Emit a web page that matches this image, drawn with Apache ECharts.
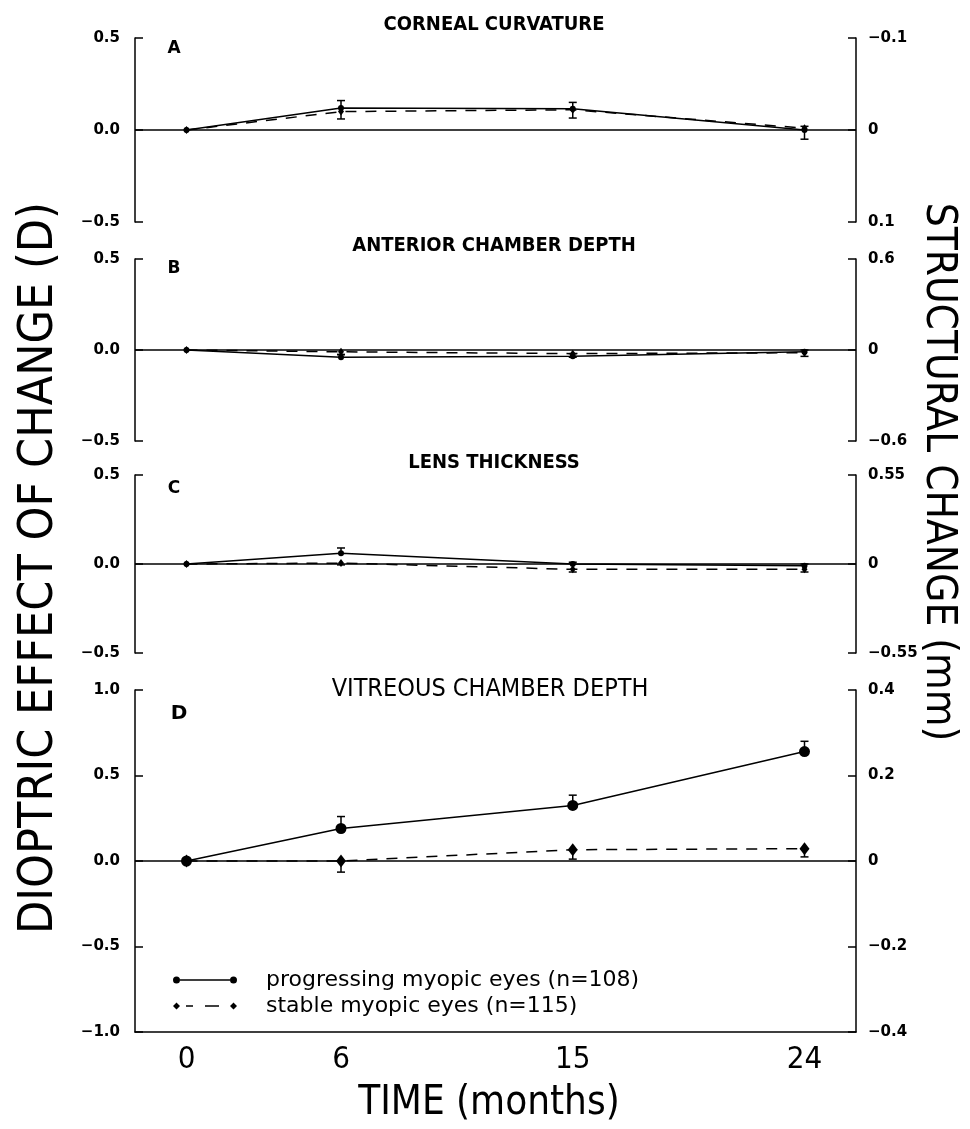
<!DOCTYPE html>
<html>
<head>
<meta charset="utf-8">
<script src="https://cdn.jsdelivr.net/npm/echarts@6/dist/echarts.min.js"></script>
<style>
  html, body { margin: 0; padding: 0; background: #fff; }
  #chart { width: 970px; height: 1129px; }
</style>
</head>
<body>
<div id="chart"></div>
<script>
// time points (months) and the labelled ticks on the bottom axis
const months = [0, 6, 15, 24];
const timeTicks = [0, 6, 15, 24];

const panelTitles = ['CORNEAL CURVATURE', 'ANTERIOR CHAMBER DEPTH', 'LENS THICKNESS', 'VITREOUS CHAMBER DEPTH'];
const panelLetters = ['A', 'B', 'C', 'D'];

const progName = 'progressing myopic eyes (n=108)';
const stabName = 'stable myopic eyes (n=115)';

// dioptric effect of change (D) -- progressing eyes, error drawn upwards
const progA = [0, 0.12, 0.115, 0.0];
const progErrA = [0, 0.04, 0.035, 0.02];
const progB = [0, -0.04, -0.035, -0.01];
const progErrB = [0, 0.015, 0.015, 0.01];
const progC = [0, 0.06, 0.0, -0.01];
const progErrC = [0, 0.03, 0.01, 0.01];
const progD = [0, 0.19, 0.325, 0.64];
const progErrD = [0, 0.07, 0.06, 0.06];

// stable eyes, error drawn downwards
const stabA = [0, 0.10, 0.11, 0.01];
const stabErrA = [0, 0.04, 0.045, 0.06];
const stabB = [0, -0.01, -0.02, -0.015];
const stabErrB = [0, 0.015, 0.02, 0.02];
const stabC = [0, 0.005, -0.03, -0.03];
const stabErrC = [0, 0.01, 0.015, 0.015];
const stabD = [0, 0.0, 0.066, 0.072];
const stabErrD = [0, 0.065, 0.055, 0.048];

// axis ranges [min, max, interval]: left in dioptres, right in mm
const leftRanges = [[-0.5, 0.5, 0.5], [-0.5, 0.5, 0.5], [-0.5, 0.5, 0.5], [-1, 1, 0.5]];
const rightRanges = [[-0.1, 0.1, 0.1], [-0.6, 0.6, 0.6], [-0.55, 0.55, 0.55], [-0.4, 0.4, 0.2]];
const rightInverse = [true, false, false, false];

const progAll = [progA, progB, progC, progD];
const progErrAll = [progErrA, progErrB, progErrC, progErrD];
const stabAll = [stabA, stabB, stabC, stabD];
const stabErrAll = [stabErrA, stabErrB, stabErrC, stabErrD];

const chart = echarts.init(document.getElementById('chart'));

const narrow = '"Liberation Sans Narrow", "DejaVu Sans Condensed", sans-serif';
const cond = '"DejaVu Sans Condensed", "Liberation Sans Narrow", sans-serif';
const tickFont = { fontFamily: 'DejaVu Sans', fontWeight: 'bold', fontSize: 15, color: '#000' };

const fmtLeft = v => (v < 0 ? '\u2212' : '') + Math.abs(v).toFixed(1);
const fmtRight = v => {
  const r = Math.round(v * 100) / 100;
  return r === 0 ? '0' : (r < 0 ? '\u2212' : '') + Math.abs(r);
};

// layout of the four stacked panels
const gridTops = [38, 259, 475, 690];
const gridHeights = [184, 182, 178, 342];

const grids = [], xAxes = [], yAxes = [], series = [];

function errorBar(dir) {
  return function (params, api) {
    const x = api.value(0), v = api.value(1), e = api.value(2);
    if (!e) return null;
    const p0 = api.coord([x, v]);
    const p1 = api.coord([x, v + dir * e]);
    const st = { stroke: '#000', lineWidth: 1.5 };
    return {
      type: 'group',
      children: [
        { type: 'line', shape: { x1: p0[0], y1: p0[1], x2: p1[0], y2: p1[1] }, style: st },
        { type: 'line', shape: { x1: p1[0] - 4, y1: p1[1], x2: p1[0] + 4, y2: p1[1] }, style: st }
      ]
    };
  };
}

for (let i = 0; i < 4; i++) {
  const last = i === 3;
  grids.push({ left: 135, right: 114, top: gridTops[i], height: gridHeights[i] });

  xAxes.push({
    type: 'value', gridIndex: i, min: -2, max: 26,
    show: last,
    splitLine: { show: false },
    axisLine: { show: last, onZero: false, lineStyle: { color: '#000', width: 1.5 } },
    axisTick: { show: false },
    axisLabel: {
      show: last, customValues: timeTicks, margin: 12,
      fontFamily: narrow, fontSize: 31, color: '#000'
    }
  });

  const L = leftRanges[i], R = rightRanges[i];
  yAxes.push({
    type: 'value', gridIndex: i, position: 'left',
    min: L[0], max: L[1], interval: L[2],
    splitLine: { show: false },
    axisLine: { show: true, onZero: false, lineStyle: { color: '#000', width: 1.5 } },
    axisTick: { show: true, inside: true, length: 8, lineStyle: { color: '#000', width: 1.5 } },
    axisLabel: Object.assign({ margin: 15, formatter: fmtLeft }, tickFont)
  });
  yAxes.push({
    type: 'value', gridIndex: i, position: 'right',
    min: R[0], max: R[1], interval: R[2], inverse: rightInverse[i],
    splitLine: { show: false },
    axisLine: { show: true, onZero: false, lineStyle: { color: '#000', width: 1.5 } },
    axisTick: { show: true, inside: true, length: 8, lineStyle: { color: '#000', width: 1.5 } },
    axisLabel: Object.assign({ margin: 12, formatter: fmtRight }, tickFont)
  });

  const yl = i * 2;
  series.push({
    name: progName, type: 'line', xAxisIndex: i, yAxisIndex: yl,
    data: months.map((m, j) => [m, progAll[i][j]]),
    symbol: 'circle', symbolSize: last ? 11 : 6,
    color: '#000', lineStyle: { color: '#000', width: 1.5 },
    z: 4,
    markLine: {
      silent: true, symbol: 'none', label: { show: false },
      lineStyle: { color: '#000', type: 'solid', width: 1.5 },
      data: [{ yAxis: 0 }]
    }
  });
  series.push({
    name: stabName, type: 'line', xAxisIndex: i, yAxisIndex: yl,
    data: months.map((m, j) => [m, stabAll[i][j]]),
    symbol: 'diamond', symbolSize: last ? [10, 13] : [6, 8],
    color: '#000', lineStyle: { color: '#000', width: 1.5, type: [11, 9] },
    z: 3
  });
  series.push({
    name: 'errP' + i, type: 'custom', xAxisIndex: i, yAxisIndex: yl,
    data: months.map((m, j) => [m, progAll[i][j], progErrAll[i][j]]),
    encode: { x: 0, y: 1 }, renderItem: errorBar(1), z: 5
  });
  series.push({
    name: 'errS' + i, type: 'custom', xAxisIndex: i, yAxisIndex: yl,
    data: months.map((m, j) => [m, stabAll[i][j], stabErrAll[i][j]]),
    encode: { x: 0, y: 1 }, renderItem: errorBar(-1), z: 5
  });
}

const progIcon = 'path://M0,3.5A3.5,3.5,0,1,1,7,3.5A3.5,3.5,0,1,1,0,3.5Z M7,2.7L57,2.7L57,4.3L7,4.3Z M57,3.5A3.5,3.5,0,1,1,64,3.5A3.5,3.5,0,1,1,57,3.5Z';
const stabIcon = 'path://M0,3.5L3.5,0L7,3.5L3.5,7Z M13,2.7L20,2.7L20,4.3L13,4.3Z M32,2.7L46,2.7L46,4.3L32,4.3Z M57,3.5L60.5,0L64,3.5L60.5,7Z';

const graphics = [];
const titleY = [25, 246, 463, 689];
panelTitles.forEach((t, i) => {
  const last = i === 3;
  graphics.push({
    type: 'text', x: last ? 490 : 494, y: titleY[i],
    style: {
      text: t, textAlign: 'center', textVerticalAlign: 'middle', fill: '#000',
      font: (last ? 'normal 25px ' : 'bold 20px ') + cond
    }
  });
});
const letterPos = [[174, 49], [174, 269], [174, 489], [179, 714]];
panelLetters.forEach((t, i) => {
  graphics.push({
    type: 'text', x: letterPos[i][0], y: letterPos[i][1],
    style: {
      text: t, textAlign: 'center', textVerticalAlign: 'middle', fill: '#000',
      font: (i === 3 ? 'bold 20px ' : 'bold 17px ') + 'DejaVu Sans'
    }
  });
});
graphics.push({
  type: 'text', x: 40, y: 568, rotation: Math.PI / 2,
  style: { text: 'DIOPTRIC EFFECT OF CHANGE (D)', textAlign: 'center', textVerticalAlign: 'middle', fill: '#000', font: '48px ' + narrow }
});
graphics.push({
  type: 'text', x: 938, y: 472, rotation: -Math.PI / 2,
  style: { text: 'STRUCTURAL CHANGE (mm)', textAlign: 'center', textVerticalAlign: 'middle', fill: '#000', font: '42px ' + narrow }
});
graphics.push({
  type: 'text', x: 489, y: 1104,
  style: { text: 'TIME (months)', textAlign: 'center', textVerticalAlign: 'middle', fill: '#000', font: '40px ' + cond }
});

chart.setOption({
  animation: false,
  backgroundColor: '#fff',
  grid: grids,
  xAxis: xAxes,
  yAxis: yAxes,
  legend: {
    orient: 'vertical', left: 168, top: 964,
    itemWidth: 64, itemHeight: 7, itemGap: 4,
    selectedMode: false,
    data: [{ name: progName, icon: progIcon }, { name: stabName, icon: stabIcon }],
    itemStyle: { color: '#000' },
    textStyle: { fontFamily: 'DejaVu Sans', fontSize: 22, color: '#000', padding: [0, 0, 0, 24] }
  },
  graphic: graphics,
  series: series
});
</script>
</body>
</html>
